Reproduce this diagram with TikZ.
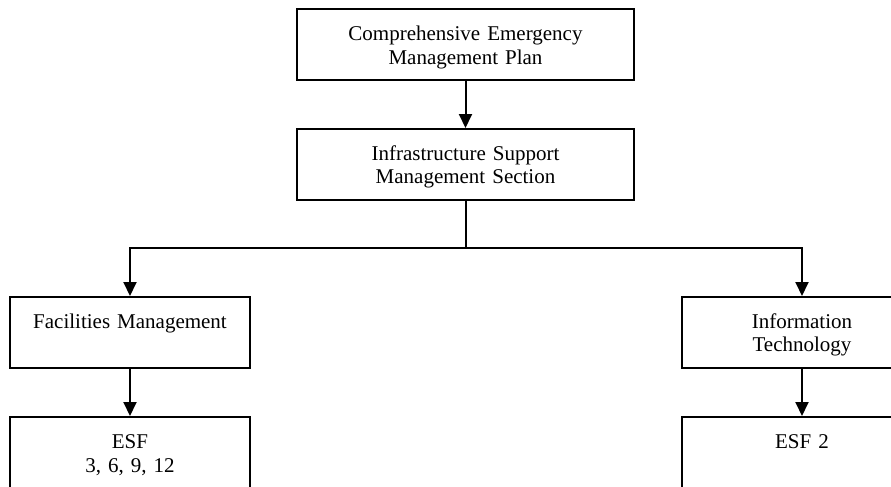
\documentclass[tikz,border=0pt]{standalone}
\usepackage{fontspec}
\setmainfont{Liberation Serif}
\usetikzlibrary{positioning,calc,arrows.meta}
\tikzset{%
  every box/.style={
    draw,
    line width=1pt,
    inner sep=0pt,
    align=center,
    anchor=north,
    text height=15.5pt,
    text depth=20pt,
    font=\fontsize{10.5}{12}\selectfont
  },
  wide box/.style={text width=168.5pt},
  narrow box/.style={text width=120pt},
  tall box/.style={text depth=40pt},
}

\begin{document}
\begin{tikzpicture}[x=0.5pt, y=-0.5pt, line width=1pt, >={Triangle[length=7pt,width=6.5pt]}]
        \useasboundingbox (0,0) rectangle (891,487);
        \clip (0,0) rectangle (891,487);

        \node [every box, wide box] (plan) at (465.5,8) {Comprehensive Emergency\\Management Plan};
        \node [every box, wide box] (section) at (465.5,128) {Infrastructure Support\\Management Section};
        \node [every box, narrow box] (facilities) at (130,296) {Facilities Management};
        \node [every box, narrow box] (infotech) at (802,296) {Information\\Technology};
        \node [every box, narrow box, tall box] (esf-1) at (130,416) {ESF\\3, 6, 9, 12};
        \node [every box, narrow box, tall box] (esf-2) at (802,416) {ESF 2};
        \coordinate (split) at (465.5,248);

        \draw [->] (plan) -- (section);
        \draw (section) -- (split);
        \foreach \n in {facilities,infotech}
          \draw [->] (split) -| (\n);
        \draw [->] (facilities) -- (esf-1);
        \draw [->] (infotech) -- (esf-2);
\end{tikzpicture}
\end{document}
